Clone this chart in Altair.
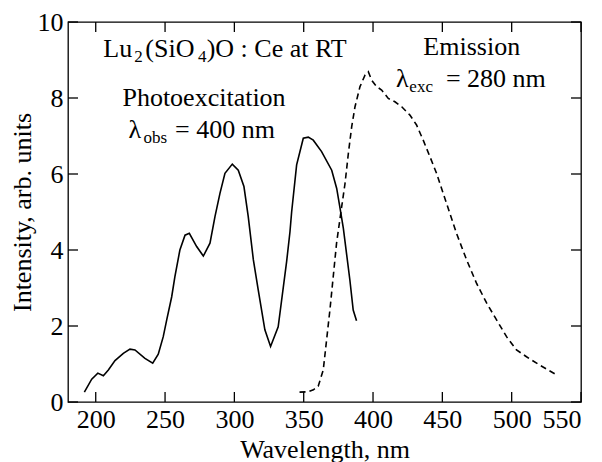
import altair as alt
import pandas as pd

# Photoexcitation spectrum (solid)
exc_wl = [191.8, 197.1, 201.5, 205.5, 209.1, 213.9, 219.9, 224.7, 228.3, 235.5,
          241.1, 245.1, 248.7, 251.2, 254.8, 257.1, 260.7, 264.4, 267.5, 272.8,
          277.6, 282.4, 286.0, 289.6, 293.2, 298.5, 302.8, 306.9, 310.0, 313.7,
          317.2, 322.0, 326.1, 331.6, 337.7, 340.1, 341.3, 344.9, 349.7, 353.3,
          356.9, 362.9, 370.2, 373.8, 376.2, 378.6, 383.3, 385.7, 388.1]
exc_int = [0.26, 0.60, 0.76, 0.69, 0.84, 1.09, 1.28, 1.39, 1.37, 1.15,
           1.02, 1.26, 1.72, 2.16, 2.77, 3.30, 4.00, 4.39, 4.44, 4.09,
           3.84, 4.18, 4.88, 5.49, 6.02, 6.26, 6.10, 5.67, 4.88, 3.74,
           2.95, 1.90, 1.46, 1.98, 3.70, 4.48, 5.00, 6.24, 6.94, 6.97,
           6.89, 6.59, 6.10, 5.62, 5.10, 4.57, 3.21, 2.42, 2.14]

# Emission spectrum (dashed)
emi_wl = [347.0, 353.0, 357.0, 360.5, 364.1, 366.5, 368.9, 371.3, 373.7, 377.4,
          379.8, 382.2, 384.6, 387.0, 390.6, 394.2, 396.6, 399.0, 402.6, 406.2,
          411.0, 415.8, 420.7, 426.6, 431.4, 436.2, 441.0, 445.8, 450.6, 453.0,
          460.2, 467.5, 474.7, 482.0, 489.1, 496.3, 503.5, 510.7, 520.3, 531.1]
emi_int = [0.26, 0.27, 0.32, 0.42, 0.84, 1.63, 2.42, 3.30, 4.18, 5.14,
           5.75, 6.54, 7.24, 7.77, 8.30, 8.60, 8.69, 8.47, 8.30, 8.21,
           7.99, 7.90, 7.77, 7.55, 7.29, 6.89, 6.46, 6.02, 5.49, 5.23,
           4.44, 3.74, 3.12, 2.60, 2.16, 1.72, 1.37, 1.19, 0.97, 0.74]

x_ticks = [200, 250, 300, 350, 400, 450, 500, 550]
y_ticks = [0, 2, 4, 6, 8, 10]

# annotation pieces (text, wavelength, intensity)
main_left_t = ["Lu", "(SiO", ")O : Ce at RT", "λ", "= 400 nm", "λ", "= 280 nm"]
main_left_x = [205.5, 235.8, 280.0, 223.6, 257.2, 416.6, 452.6]
main_left_y = [9.07, 9.07, 9.07, 6.95, 6.95, 8.29, 8.29]

main_center_t = ["Photoexcitation", "Emission"]
main_center_x = [278.1, 471.2]
main_center_y = [7.79, 9.13]

sub_t = ["2", "4", "obs", "exc"]
sub_x = [227.8, 273.8, 234.5, 426.2]
sub_y = [8.95, 8.95, 6.82, 8.16]

FONT = "Liberation Serif, Times New Roman, serif"
W, H = 513, 380

exc = pd.DataFrame({"wl": exc_wl, "I": exc_int})
emi = pd.DataFrame({"wl": emi_wl, "I": emi_int})

xs = alt.Scale(domain=[180, 550], nice=False)
ys = alt.Scale(domain=[0, 10], nice=False)

xax = alt.Axis(values=x_ticks, ticks=False, domain=False, grid=False,
               labelFont=FONT, labelFontSize=26, labelColor="black", labelPadding=4,
               title="Wavelength, nm", titleFont=FONT, titleFontSize=26,
               titleFontWeight="normal", titleColor="black",
               titleBaseline="alphabetic", titleY=55)
yax = alt.Axis(values=y_ticks, ticks=False, domain=False, grid=False,
               labelFont=FONT, labelFontSize=26, labelColor="black", labelPadding=5,
               title="Intensity, arb. units", titleFont=FONT, titleFontSize=26,
               titleFontWeight="normal", titleColor="black",
               titleBaseline="alphabetic", titleX=-38)


def X(field):
    return alt.X(field, scale=xs, axis=xax, title="Wavelength, nm")


def Y(field):
    return alt.Y(field, scale=ys, axis=yax, title="Intensity, arb. units")


exc_line = alt.Chart(exc).mark_line(color="black", strokeWidth=1.6).encode(
    x=X("wl:Q"), y=Y("I:Q"))
emi_line = alt.Chart(emi).mark_line(color="black", strokeWidth=1.6,
                                    strokeDash=[6, 4]).encode(
    x=X("wl:Q"), y=Y("I:Q"))

xt = pd.DataFrame({"v": x_ticks})
yt = pd.DataFrame({"v": y_ticks})
tick_style = dict(color="black", strokeWidth=1.3)
top_ticks = alt.Chart(xt).mark_rule(**tick_style).encode(
    x=X("v:Q"), y=alt.value(0), y2=alt.value(10))
bot_ticks = alt.Chart(xt).mark_rule(**tick_style).encode(
    x=X("v:Q"), y=alt.value(H), y2=alt.value(H - 10))
left_ticks = alt.Chart(yt).mark_rule(**tick_style).encode(
    y=Y("v:Q"), x=alt.value(0), x2=alt.value(10))
right_ticks = alt.Chart(yt).mark_rule(**tick_style).encode(
    y=Y("v:Q"), x=alt.value(W), x2=alt.value(W - 10))

ml = pd.DataFrame({"t": main_left_t, "x": main_left_x, "y": main_left_y})
mc = pd.DataFrame({"t": main_center_t, "x": main_center_x, "y": main_center_y})
sb = pd.DataFrame({"t": sub_t, "x": sub_x, "y": sub_y})

txt_left = alt.Chart(ml).mark_text(align="left", baseline="alphabetic", font=FONT,
                                   fontSize=26, color="black").encode(
    x=X("x:Q"), y=Y("y:Q"), text="t:N")
txt_center = alt.Chart(mc).mark_text(align="center", baseline="alphabetic", font=FONT,
                                     fontSize=26, color="black").encode(
    x=X("x:Q"), y=Y("y:Q"), text="t:N")
txt_sub = alt.Chart(sb).mark_text(align="left", baseline="alphabetic", font=FONT,
                                  fontSize=17, color="black").encode(
    x=X("x:Q"), y=Y("y:Q"), text="t:N")

chart = alt.layer(
    exc_line, emi_line, top_ticks, bot_ticks, left_ticks, right_ticks,
    txt_left, txt_center, txt_sub,
).properties(
    width=W, height=H,
    autosize=alt.AutoSizeParams(type="none"),
    padding={"left": 68, "top": 22, "right": 21, "bottom": 60},
    background="white",
).configure_view(stroke="black", strokeWidth=1.3)

chart.save("out.html", embed_options={"renderer": "svg", "actions": False})
